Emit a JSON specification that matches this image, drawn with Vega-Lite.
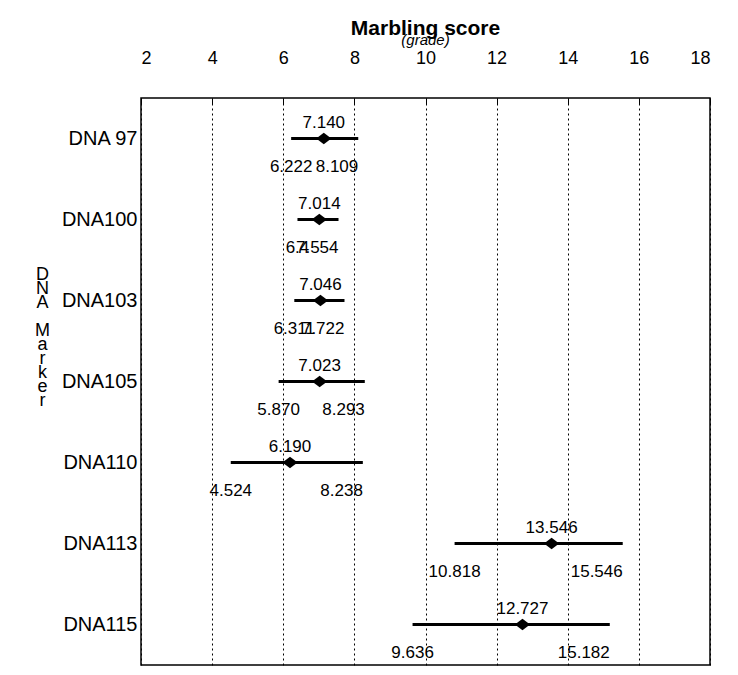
{
  "$schema": "https://vega.github.io/schema/vega-lite/v6.json",
  "autosize": {"type": "none"},
  "padding": {"left": 141, "top": 98, "right": 28, "bottom": 10},
  "width": 569,
  "height": 567,
  "background": "white",
  "title": {
    "text": "Marbling score",
    "subtitle": "(grade)",
    "anchor": "middle",
    "font": "Liberation Sans",
    "fontSize": 21,
    "fontWeight": "bold",
    "subtitleFont": "Liberation Sans",
    "subtitleFontSize": 15,
    "subtitleFontStyle": "italic",
    "subtitlePadding": -6,
    "offset": 2,
    "dy": 1,
    "color": "black",
    "subtitleColor": "black"
  },
  "data": {
    "values": [
      {"marker": "DNA 97", "mean": 7.140, "low": 6.222, "high": 8.109, "lowText": "6.222"},
      {"marker": "DNA100", "mean": 7.014, "low": 6.4, "high": 7.554, "lowText": "6.4"},
      {"marker": "DNA103", "mean": 7.046, "low": 6.311, "high": 7.722, "lowText": "6.311"},
      {"marker": "DNA105", "mean": 7.023, "low": 5.870, "high": 8.293, "lowText": "5.870"},
      {"marker": "DNA110", "mean": 6.190, "low": 4.524, "high": 8.238, "lowText": "4.524"},
      {"marker": "DNA113", "mean": 13.546, "low": 10.818, "high": 15.546, "lowText": "10.818"},
      {"marker": "DNA115", "mean": 12.727, "low": 9.636, "high": 15.182, "lowText": "9.636"}
    ]
  },
  "encoding": {
    "y": {
      "field": "marker",
      "type": "nominal",
      "sort": null,
      "scale": {"paddingInner": 0, "paddingOuter": 0},
      "axis": {
        "title": ["D", "N", "A", "\u2800", "M", "a", "r", "k", "e", "r"],
        "titleAngle": 0,
        "titleX": -99,
        "titleY": 167,
        "titleAlign": "center",
        "titleBaseline": "top",
        "titleLineHeight": 14,
        "titleFont": "Liberation Sans",
        "titleFontSize": 18,
        "titleFontWeight": "normal",
        "titleColor": "black",
        "labelFont": "Liberation Sans",
        "labelFontSize": 20,
        "labelColor": "black",
        "labelPadding": 4,
        "ticks": false,
        "domain": false,
        "grid": false
      }
    }
  },
  "layer": [
    {
      "mark": {"type": "rule", "color": "black", "strokeWidth": 3},
      "encoding": {
        "x": {
          "field": "low",
          "type": "quantitative",
          "scale": {"domain": [2, 18], "nice": false, "zero": false},
          "axis": {
            "orient": "top",
            "title": null,
            "values": [2, 4, 6, 8, 10, 12, 14, 16, 18],
            "labelFont": "Liberation Sans",
            "labelFontSize": 18,
            "labelColor": "black",
            "labelPadding": 37,
            "tickSize": -6,
            "tickColor": "black",
            "domain": false,
            "grid": true,
            "gridColor": "black",
            "gridDash": [2, 3],
            "gridWidth": 1,
            "gridOpacity": 1
          }
        },
        "x2": {"field": "high"}
      }
    },
    {
      "mark": {"type": "point", "shape": "M-1,0L0,-0.75L1,0L0,0.75Z", "filled": true, "color": "black", "opacity": 1, "size": 230},
      "encoding": {"x": {"field": "mean", "type": "quantitative"}}
    },
    {
      "mark": {"type": "text", "font": "Liberation Sans", "fontSize": 17, "color": "black", "baseline": "alphabetic", "align": "center", "dy": -11},
      "encoding": {
        "x": {"field": "mean", "type": "quantitative"},
        "text": {"field": "mean", "type": "quantitative", "format": ".3f"}
      }
    },
    {
      "mark": {"type": "text", "font": "Liberation Sans", "fontSize": 17, "color": "black", "baseline": "alphabetic", "align": "center", "dy": 33},
      "encoding": {
        "x": {"field": "low", "type": "quantitative"},
        "text": {"field": "lowText", "type": "nominal"}
      }
    },
    {
      "mark": {"type": "text", "font": "Liberation Sans", "fontSize": 17, "color": "black", "baseline": "alphabetic", "align": "right", "dy": 33},
      "encoding": {
        "x": {"field": "high", "type": "quantitative"},
        "text": {"field": "high", "type": "quantitative", "format": ".3f"}
      }
    }
  ],
  "config": {
    "view": {"stroke": "black", "strokeWidth": 1.5}
  }
}
